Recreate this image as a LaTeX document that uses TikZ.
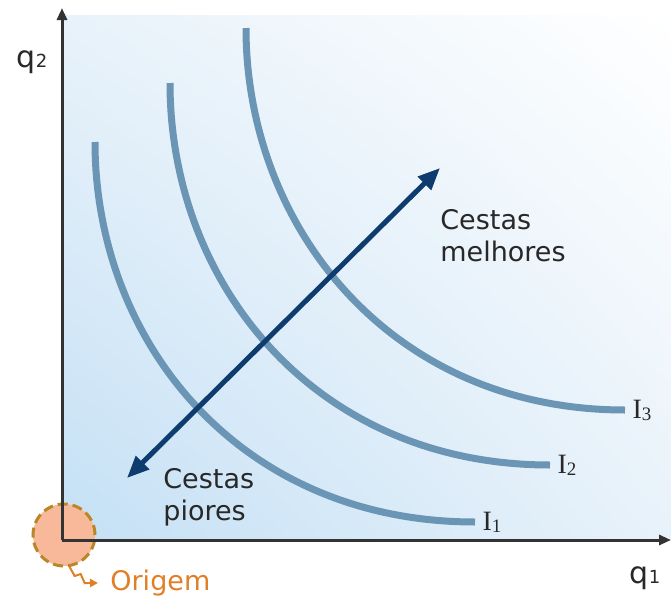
\documentclass[tikz,border=0pt]{standalone}
\usepackage{fontspec}
\setmainfont{DejaVu Sans}
\newfontfamily\curvefont{Liberation Serif}
\usetikzlibrary{arrows.meta, shadings}

\begin{document}
\begin{tikzpicture}[
	x=0.5pt, y=-0.5pt,
	axis/.style={draw=axisgray, line width=1.5pt, -{Triangle[length=6pt, width=5pt]}},
	indiff/.style={draw=curveblue, line width=3.5pt},
	curvelabel/.style={anchor=west, inner sep=2pt, font=\curvefont\fontsize{14}{14}\selectfont, text=textgray},
	basket/.style={font=\fontsize{13.5}{16}\selectfont, text=textgray, align=left, inner sep=0pt, anchor=west},
	quantity/.style={font=\fontsize{15}{15}\selectfont, text=textgray, inner sep=0pt},
	prefarrow/.style={draw=navy, line width=2.5pt, {Triangle[length=11pt, width=9pt]}-{Triangle[length=11pt, width=9pt]}},
	originmark/.style={circle, fill=originfill, draw=originline, dash pattern=on 5pt off 2.5pt, line width=1.5pt, minimum size=31pt, inner sep=0pt}
	]
		\definecolor{axisgray}{RGB}{51, 51, 51}
		\definecolor{textgray}{RGB}{40, 40, 40}
		\definecolor{curveblue}{RGB}{106, 149, 181}
		\definecolor{navy}{RGB}{15, 60, 110}
		\definecolor{bgblue}{RGB}{196, 224, 245}
		\definecolor{bgmid}{RGB}{232, 242, 250}
		\definecolor{originfill}{RGB}{248, 184, 154}
		\definecolor{originline}{RGB}{185, 135, 40}
		\definecolor{origintext}{RGB}{224, 127, 38}

	\useasboundingbox (0,0) rectangle (671,596);

	% background
	\shade[lower left=bgblue, upper right=white, upper left=bgmid, lower right=bgmid] (62,15) rectangle (671,540);

	% origin
	\node[originmark] (origc) at (64,535) {};
	\node[font=\fontsize{13.5}{16}\selectfont, text=origintext, anchor=west, inner sep=0pt] (origem) at (110,583) {Origem};
	\draw[origintext, line width=1pt, -{Triangle[length=4pt, width=4pt]}] (origc.280) -- ++(5,9) -- ++(6,-2) -- ++(4,9) -- ([xshift=-6pt]origem.west);

	% axes
	\coordinate (O) at (62,540);
	\coordinate (ytip) at (62,8);
	\coordinate (xtip) at (671,540);
	\draw[axis] (O) -- (ytip);
	\draw[axis] (O) -- (xtip);
	\node[quantity] (q2) at (32,62) {q{\fontsize{9}{9}\selectfont 2}};
	\node[quantity] (q1) at (645,578) {q{\fontsize{9}{9}\selectfont 1}};

	% indifference curves
	\draw[indiff] (95,142) .. controls (95,342) and (240,522) .. (475,522) node[curvelabel] (i1) {I\raisebox{-1pt}{\fontsize{9.5}{9.5}\selectfont 1}};
	\draw[indiff] (170,83) .. controls (170,284) and (315,465) .. (550,465) node[curvelabel] (i2) {I\raisebox{-1pt}{\fontsize{9.5}{9.5}\selectfont 2}};
	\draw[indiff] (246,28) .. controls (246,226) and (390,410) .. (625,410) node[curvelabel] (i3) {I\raisebox{-1pt}{\fontsize{9.5}{9.5}\selectfont 3}};

	% preference direction
	\coordinate (worse) at (127,478);
	\coordinate (better) at (440,168);
	\draw[prefarrow] (worse) -- (better);
	\node[basket] (melhores) at (440,236) {Cestas\\melhores};
	\node[basket] (piores) at (163,497) {Cestas\\piores};
\end{tikzpicture}
\end{document}
